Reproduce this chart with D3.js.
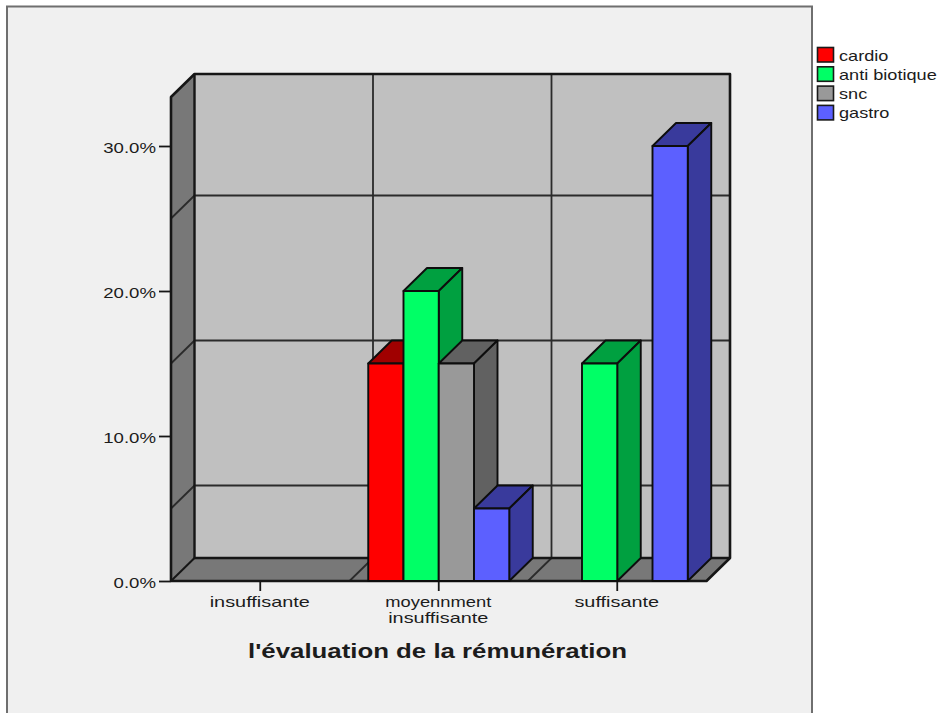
<!DOCTYPE html>
<html lang="fr">
<head>
<meta charset="utf-8">
<script src="https://cdn.jsdelivr.net/npm/d3@7/dist/d3.min.js"></script>
<style>
  html, body { margin: 0; padding: 0; background: #fff; overflow: hidden; }
  svg { display: block; }
  text { font-family: "Liberation Sans", Arial, sans-serif; fill: #1c1c1c; }
</style>
</head>
<body>
<div id="chart"></div>
<script>
// Chart values, in percent
const categories = ["insuffisante", "moyennment insuffisante", "suffisante"];
const seriesNames = ["cardio", "anti biotique", "snc", "gastro"];
const cardio = [0, 15, 0];
const antiBiotique = [0, 20, 15];
const snc = [0, 15, 0];
const gastro = [0, 5, 30];
const seriesValues = [cardio, antiBiotique, snc, gastro];
const yTicks = [0, 10, 20, 30];
const wallGrid = [5, 15, 25];
const frontColors = ["#ff0000", "#00ff66", "#999999", "#5c60ff"];
const shadeColors = ["#a00000", "#00a040", "#616161", "#393a9c"];
const xTitle = "l'évaluation de la rémunération";

// Layout of the box: front plane plus the depth offset of the back wall
const width = 939, height = 713;
const front = { left: 171, right: 706.5, bottom: 581, top: 97 };
const depth = { x: 23.5, y: -23 };
const ink = "#161616";

const svg = d3.select("#chart").append("svg").attr("width", width).attr("height", height);

const x = d3.scaleBand().domain(categories).range([front.left, front.right]);
const xSeries = d3.scaleBand().domain(seriesNames).range([0, x.bandwidth() * 0.79]);
const y = d3.scaleLinear()
  .domain([0, (front.bottom - front.top) / 14.5])
  .range([front.bottom, front.top]);

const poly = pts => pts.map(p => p.join(",")).join(" ");
const back = (px, py) => [px + depth.x, py + depth.y];

// Stretches text horizontally to the wide look of the labels, up to an optional width
function stretch(sel, factor, maxWidth = Infinity) {
  sel.each(function () {
    const len = this.getComputedTextLength();
    d3.select(this)
      .attr("textLength", Math.min(len * factor, maxWidth))
      .attr("lengthAdjust", "spacingAndGlyphs");
  });
}

// Chart panel
svg.append("rect")
  .attr("x", 7).attr("y", 6.5).attr("width", 805).attr("height", 740)
  .attr("fill", "#f0f0f0").attr("stroke", "#6f6f6f").attr("stroke-width", 2);

// Box walls
const box = svg.append("g");
const [x0, x1] = [front.left, front.right];
const yb = y(0);
const yt = y(y.domain()[1]);

box.append("polygon") // back wall
  .attr("points", poly([back(x0, yt), back(x1, yt), back(x1, yb), back(x0, yb)]))
  .attr("fill", "#c0c0c0");
box.append("polygon") // left wall
  .attr("points", poly([[x0, yt], back(x0, yt), back(x0, yb), [x0, yb]]))
  .attr("fill", "#787878");
box.append("polygon") // floor
  .attr("points", poly([[x0, yb], back(x0, yb), back(x1, yb), [x1, yb]]))
  .attr("fill", "#787878");

// Grid lines that wrap from the left wall across the back wall
const grid = box.append("g").attr("fill", "none").attr("stroke", "#2b2b2b").attr("stroke-width", 1.8);
wallGrid.forEach(v => {
  grid.append("polyline")
    .attr("points", poly([[x0, y(v)], back(x0, y(v)), back(x1, y(v))]));
});
// Category dividers running over the floor and up the back wall
categories.slice(1).forEach(c => {
  const px = x(c);
  grid.append("polyline")
    .attr("points", poly([[px, yb], back(px, yb), back(px, yt)]));
});

// Heavy outline of the box
box.append("polyline")
  .attr("points", poly([[x0, yb], [x0, yt], back(x0, yt), back(x1, yt), back(x1, yb), [x1, yb], [x0, yb]]))
  .attr("fill", "none").attr("stroke", ink).attr("stroke-width", 2.6).attr("stroke-linejoin", "round");
box.append("polyline")
  .attr("points", poly([back(x0, yt), back(x0, yb), back(x1, yb)]))
  .attr("fill", "none").attr("stroke", ink).attr("stroke-width", 2.4);
box.append("line")
  .attr("x1", x0).attr("y1", yb).attr("x2", back(x0, yb)[0]).attr("y2", back(x0, yb)[1])
  .attr("stroke", ink).attr("stroke-width", 2);

// Axes
const yAxis = svg.append("g")
  .attr("transform", `translate(${x0},0)`)
  .call(d3.axisLeft(y).tickValues(yTicks).tickSize(12).tickPadding(3)
    .tickFormat(d => d.toFixed(1) + "%"));
const xAxis = svg.append("g")
  .attr("transform", `translate(0,${yb})`)
  .call(d3.axisBottom(x).tickSize(10).tickPadding(3).tickFormat(""));
[yAxis, xAxis].forEach(a => {
  a.select(".domain").remove();
  a.selectAll(".tick line").attr("stroke", ink).attr("stroke-width", 1.8);
});
yAxis.selectAll(".tick text")
  .attr("font-size", 15).attr("fill", "#1c1c1c").attr("dy", "0.42em")
  .style("font-family", '"Liberation Sans", Arial, sans-serif');
stretch(yAxis.selectAll(".tick text"), 1.24);

// Category labels, wrapped on the space where the label is long
const labelLines = c => c.length > 15 ? c.split(" ") : [c];
xAxis.selectAll(".tick").each(function (c) {
  const t = d3.select(this).select("text")
    .attr("font-size", 14.5).attr("y", 26).attr("dy", null)
    .style("font-family", '"Liberation Sans", Arial, sans-serif');
  labelLines(c).forEach((line, i) => {
    const s = t.append("tspan").attr("x", -0.5).attr("dy", i ? 15.5 : 0).text(line);
    stretch(s, 1.37, 106);
  });
});

// Bars, left to right so nearer faces overlap correctly
const bars = svg.append("g");
categories.forEach((c, ci) => {
  const groupLeft = x(c) + (x.bandwidth() - xSeries.range()[1]) / 2;
  seriesNames.forEach((name, si) => {
    const v = seriesValues[si][ci];
    if (!v) return;
    const l = groupLeft + xSeries(name);
    const r = l + xSeries.bandwidth();
    const t = y(v);
    const b = y(0);
    const g = bars.append("g").attr("stroke", "#0d0d0d").attr("stroke-width", 1.9).attr("stroke-linejoin", "round");
    g.append("polygon").attr("points", poly([[l, t], back(l, t), back(r, t), [r, t]])).attr("fill", shadeColors[si]);
    g.append("polygon").attr("points", poly([[r, t], back(r, t), back(r, b), [r, b]])).attr("fill", shadeColors[si]);
    g.append("rect").attr("x", l).attr("y", t).attr("width", r - l).attr("height", b - t).attr("fill", frontColors[si]);
  });
});

// Axis title
svg.append("text")
  .attr("x", 437.5).attr("y", 658)
  .attr("text-anchor", "middle").attr("font-size", 20).attr("font-weight", "bold")
  .attr("fill", "#111").text(xTitle).call(stretch, 1.29);

// Legend
const legend = svg.append("g");
seriesNames.forEach((name, i) => {
  const ly = 47.5 + i * 19.3;
  legend.append("rect")
    .attr("x", 817.5).attr("y", ly).attr("width", 16).attr("height", 14.5)
    .attr("fill", frontColors[i]).attr("stroke", "#1a1a1a").attr("stroke-width", 1.6);
  legend.append("text")
    .attr("x", 839).attr("y", ly + 13)
    .attr("font-size", 14.5).text(name).call(stretch, 1.25);
});
</script>
</body>
</html>
